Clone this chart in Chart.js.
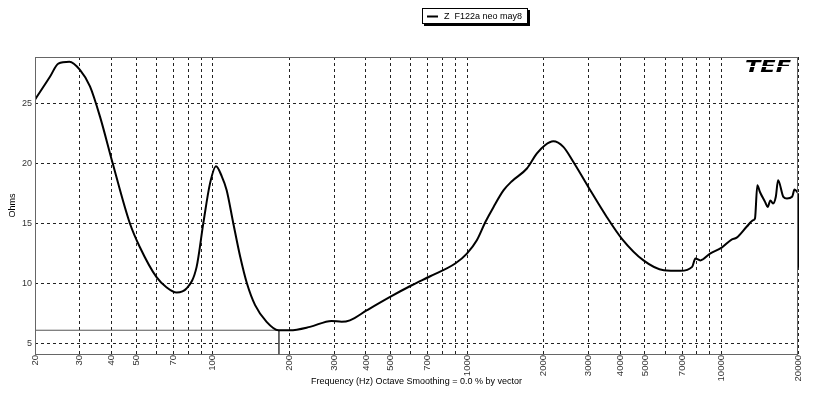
<!DOCTYPE html>
<html>
<head>
<meta charset="utf-8">
<script src="https://cdn.jsdelivr.net/npm/chart.js@4/dist/chart.umd.min.js"></script>
<style>
  html, body { margin: 0; padding: 0; background: #fff; }
  #wrap { width: 817px; height: 397px; }
</style>
</head>
<body>
<div id="wrap"><canvas id="zChart" width="817" height="397"></canvas></div>
<script>
// impedance curve
const freqs = [20, 22.9, 24.7, 27.3, 30.1, 32.9, 36, 40.4, 47.2, 51.7, 60.1, 65.9, 72.1, 78.9, 86.4, 91.8, 97.5, 103, 108.5, 113.4,
  120.4, 128.2, 136.3, 146.7, 162.8, 181, 201, 241, 293, 321, 346, 404, 498, 606, 716, 898, 998, 1092, 1180, 1271,
  1392, 1500, 1718, 1878, 2024, 2182, 2390, 2618, 3000, 3546, 4062, 4938, 5934, 6900, 7670, 7900, 8260, 9020, 10020, 10960,
  11480, 12560, 13340, 13550, 13840, 14170, 14840, 15200, 15580, 15960, 16360, 16700, 17520, 18100, 18960, 19380, 19870, 20000];
const ohms = [25.3, 27.2, 28.3, 28.45, 27.75, 26.4, 23.9, 20.0, 15.0, 13.0, 10.5, 9.64, 9.22, 9.56, 11.36, 15.0, 18.3, 19.75, 18.9, 17.75,
  15.0, 12.2, 9.97, 8.17, 6.78, 6.08, 6.08, 6.36, 6.86, 6.78, 6.9, 7.75, 8.86, 9.83, 10.58, 11.64, 12.47, 13.58, 15.1, 16.36,
  17.75, 18.5, 19.56, 20.8, 21.5, 21.83, 21.36, 20.1, 18.0, 15.5, 13.7, 11.9, 11.08, 11.03, 11.36, 12.06, 11.9, 12.47, 12.97, 13.64,
  13.8, 14.7, 15.25, 15.4, 18.17, 17.6, 16.78, 16.36, 16.9, 16.64, 17.2, 18.58, 17.2, 17.06, 17.2, 17.8, 17.6, 17.5];

// last sweep point falls straight down at 20 kHz
const dropFreqs = [20000, 20000];
const dropOhms = [17.5, 11.3];

// cursor marker (minimum impedance)
const markerFreqs = [20, 182, 182];
const markerOhms = [6.08, 6.08, 4.1];

const gridFreqs = [20, 30, 40, 50, 60, 70, 80, 90, 100, 200, 300, 400, 500, 600, 700, 800, 900,
  1000, 2000, 3000, 4000, 5000, 6000, 7000, 8000, 9000, 10000, 20000];
const labelFreqs = [20, 30, 40, 50, 70, 100, 200, 300, 400, 500, 700, 1000, 2000, 3000, 4000, 5000, 7000, 10000, 20000];
const ohmTicks = [5, 10, 15, 20, 25];

const seriesName = 'Z  F122a neo may8';
const FONT = '"Liberation Sans", Arial, sans-serif';

// plot frame, legend box and logo
const decorations = {
  id: 'decorations',
  afterDraw(chart) {
    const { ctx, chartArea: a } = chart;
    ctx.save();
    ctx.strokeStyle = '#666';
    ctx.lineWidth = 1;
    ctx.strokeRect(a.left + 0.5, a.top + 0.5, a.right - a.left - 1, a.bottom - a.top);

    // legend box
    const bx = 422, by = 8, bw = 106, bh = 16;
    ctx.fillStyle = '#000';
    ctx.fillRect(bx + 2, by + 2, bw, bh);
    ctx.fillStyle = '#fff';
    ctx.fillRect(bx, by, bw, bh);
    ctx.strokeStyle = '#000';
    ctx.strokeRect(bx + 0.5, by + 0.5, bw - 1, bh - 1);
    ctx.lineWidth = 2;
    ctx.beginPath();
    ctx.moveTo(bx + 5, by + 8.5);
    ctx.lineTo(bx + 16, by + 8.5);
    ctx.stroke();
    ctx.fillStyle = '#000';
    ctx.font = '9px ' + FONT;
    ctx.textBaseline = 'middle';
    ctx.fillText(chart.data.datasets[0].label, bx + 22, by + 8.5);

    // TEF logo
    ctx.translate(a.right - 53, a.top + 15);
    ctx.scale(1.5, 1);
    ctx.font = 'italic bold 15px "DejaVu Sans", sans-serif';
    ctx.textBaseline = 'alphabetic';
    ctx.fillText('TEF', 0, 0);
    ctx.restore();
    ctx.save();
    ctx.strokeStyle = '#fff';
    ctx.lineWidth = 1;
    ctx.beginPath();
    ctx.moveTo(a.right - 58, a.top + 9.5);
    ctx.lineTo(a.right - 2, a.top + 9.5);
    ctx.stroke();
    ctx.restore();
  }
};

const ctx = document.getElementById('zChart').getContext('2d');
const zChart = new Chart(ctx, {
  type: 'line',
  data: {
    datasets: [{
      label: seriesName,
      data: freqs.map((f, i) => ({ x: f, y: ohms[i] })),
      borderColor: '#000',
      borderWidth: 2,
      pointRadius: 0,
      cubicInterpolationMode: 'monotone',
      fill: false
    }, {
      label: 'drop',
      data: dropFreqs.map((f, i) => ({ x: f, y: dropOhms[i] })),
      borderColor: '#000',
      borderWidth: 2,
      pointRadius: 0,
      tension: 0,
      clip: false,
      fill: false
    }, {
      label: 'marker',
      data: markerFreqs.map((f, i) => ({ x: f, y: markerOhms[i] })),
      borderColor: '#555',
      borderWidth: 1,
      pointRadius: 0,
      tension: 0,
      fill: false
    }]
  },
  options: {
    responsive: false,
    animation: false,
    layout: { padding: { top: 57, right: 19, left: 0, bottom: 0 } },
    plugins: {
      legend: { display: false },
      tooltip: { enabled: false }
    },
    scales: {
      x: {
        type: 'logarithmic',
        min: 20,
        max: 20000,
        afterBuildTicks: s => { s.ticks = gridFreqs.map(v => ({ value: v })); },
        afterFit: s => { s.height = 43; },
        grid: { color: '#222', drawTicks: false, lineWidth: 1 },
        border: { display: false, dash: [3, 3] },
        ticks: {
          autoSkip: false,
          minRotation: 90,
          maxRotation: 90,
          padding: 1,
          color: '#333',
          font: { family: FONT, size: 9.5 },
          callback: v => labelFreqs.includes(v) ? String(v) : ''
        },
        title: {
          display: true,
          text: 'Frequency (Hz) Octave Smoothing = 0.0 % by vector',
          color: '#000',
          font: { family: FONT, size: 9 },
          padding: { top: 0, bottom: 10 }
        }
      },
      y: {
        min: 4.1,
        max: 28.85,
        afterBuildTicks: s => { s.ticks = ohmTicks.map(v => ({ value: v })); },
        afterFit: s => { s.width = 35; },
        grid: { color: '#222', drawTicks: false, lineWidth: 1 },
        border: { display: false, dash: [3, 3] },
        ticks: {
          padding: 3,
          color: '#333',
          font: { family: FONT, size: 9 }
        },
        title: {
          display: true,
          text: 'Ohms',
          color: '#000',
          font: { family: FONT, size: 9 },
          padding: { top: 7, bottom: 0 }
        }
      }
    }
  },
  plugins: [decorations]
});
</script>
</body>
</html>
